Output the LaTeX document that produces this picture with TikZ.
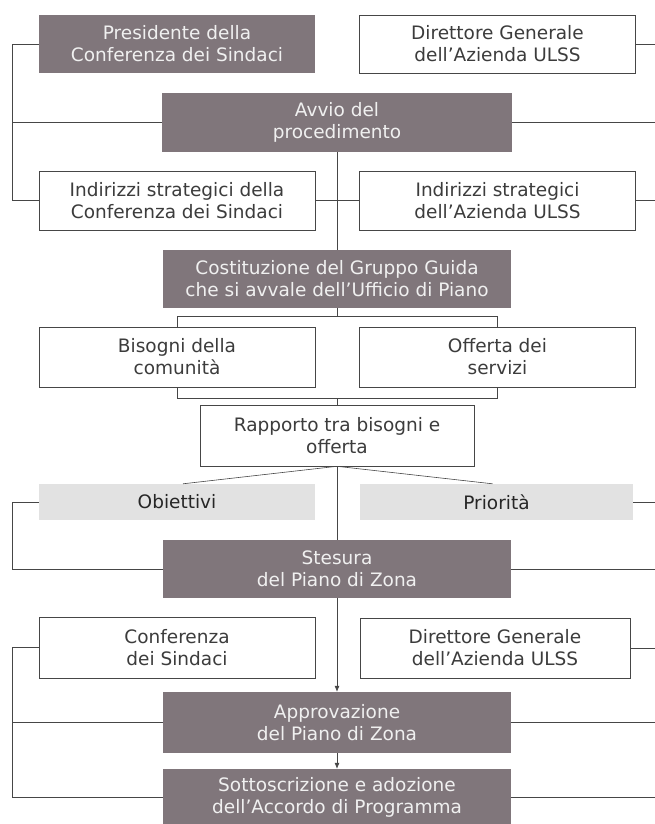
\documentclass[tikz,border=0pt]{standalone}
\usepackage{fontspec}
\setmainfont{DejaVu Sans}
\usepackage{xcolor}
\usepackage{tikz}
\usetikzlibrary{arrows.meta, positioning, calc}
\definecolor{pzdark}{RGB}{128,118,123}
\definecolor{pzlight}{RGB}{226,226,226}
\definecolor{pzline}{RGB}{70,70,70}
\definecolor{pztext}{RGB}{60,60,60}

\begin{document}
\begin{tikzpicture}[x=1pt,y=-1pt,>={Latex[length=6pt,width=5pt]},
  darkbox/.style={fill=pzdark,text=white!94!black,align=center,inner sep=0pt,
    minimum width=348pt,minimum height=59pt,font=\fontsize{18.5}{22}\selectfont},
  whitebox/.style={draw=pzline,line width=0.6pt,fill=white,text=pztext,align=center,inner sep=0pt,
    minimum width=276pt,minimum height=60pt,font=\fontsize{18.5}{22}\selectfont},
  lightbox/.style={fill=pzlight,text=black!85,inner sep=0pt,
    minimum width=276pt,minimum height=36pt,font=\fontsize{18.5}{22}\selectfont},
  link/.style={draw=pzline,line width=0.6pt}]
\useasboundingbox (0,0) rectangle (655,824);
\coordinate (lx) at (12,0);
\coordinate (rx) at (655,0);

% Avvio
\node[darkbox,minimum width=276pt,minimum height=58pt] (pres) at (177,44) {Presidente della\\Conferenza dei Sindaci};
\node[whitebox,minimum height=58pt] (dirtop) at (497.5,44) {Direttore Generale\\dell’Azienda ULSS};
\node[darkbox,minimum width=350pt] (avvio) at (337,122.5) {Avvio del\\procedimento};
\node[whitebox,minimum height=59pt] (indconf) at (177,200.5) {Indirizzi strategici della\\Conferenza dei Sindaci};
\node[whitebox,minimum height=59pt] (indulss) at (497.5,200.5) {Indirizzi strategici\\dell’Azienda ULSS};

% Analisi
\node[darkbox,minimum height=58pt] (cost) at (337,279) {Costituzione del Gruppo Guida\\che si avvale dell’Ufficio di Piano};
\node[whitebox] (bisogni) at (177,357) {Bisogni della\\comunità};
\node[whitebox] (offerta) at (497.5,357) {Offerta dei\\servizi};
\node[whitebox,minimum width=274pt,minimum height=61pt] (rapporto) at (337,435.5) {Rapporto tra bisogni e\\offerta};
\node[lightbox] (obiettivi) at (177,502) {Obiettivi};
\node[lightbox,minimum width=273pt] (priorita) at (496.5,502) {Priorità};

% Piano
\node[darkbox,minimum height=58pt] (stesura) at (337,569) {Stesura\\del Piano di Zona};
\node[whitebox,minimum height=61pt] (conf) at (177,647.5) {Conferenza\\dei Sindaci};
\node[whitebox,minimum width=270pt] (dirbot) at (495,648) {Direttore Generale\\dell’Azienda ULSS};
\node[darkbox,minimum height=61pt] (approv) at (337,722.5) {Approvazione\\del Piano di Zona};
\node[darkbox,minimum height=56pt] (sotto) at (337,797) {Sottoscrizione e adozione\\dell’Accordo di Programma};

% left side
\draw[link] (pres.west) -- (pres.west -| lx) |- (indconf.west);
\draw[link] (avvio.west) -- (avvio.west -| lx);
\draw[link] (obiettivi.west) -- (obiettivi.west -| lx) |- (stesura.west);
\draw[link] (conf.west) -- (conf.west -| lx) |- (sotto.west);
\draw[link] (approv.west) -- (approv.west -| lx);

% right side
\foreach \n in {dirtop,avvio,indulss,priorita,stesura,dirbot,approv,sotto}
  \draw[link] (\n.east) -- (\n.east -| rx);

% centre
\draw[link] (avvio.south) -- (cost.north);
\draw[link] (indconf.east) -- (indulss.west);
\draw[link] (bisogni.north) -- ++(0,-10) coordinate (bt) -| (offerta.north);
\draw[link] (cost.south) -- (cost.south |- bt);
\draw[link] (bisogni.south) -- ++(0,11) coordinate (bb) -| (offerta.south);
\draw[link] (rapporto.north) -- (rapporto.north |- bb);
\draw[link] (rapporto.south) -- ($(obiettivi.north)+(6,0)$);
\draw[link] (rapporto.south) -- ($(priorita.north)+(-4,0)$);
\draw[link] (rapporto.south) -- (stesura.north);
\draw[link,->] (stesura.south) -- (approv.north);
\draw[link,->] (approv.south) -- (sotto.north);
\end{tikzpicture}
\end{document}
